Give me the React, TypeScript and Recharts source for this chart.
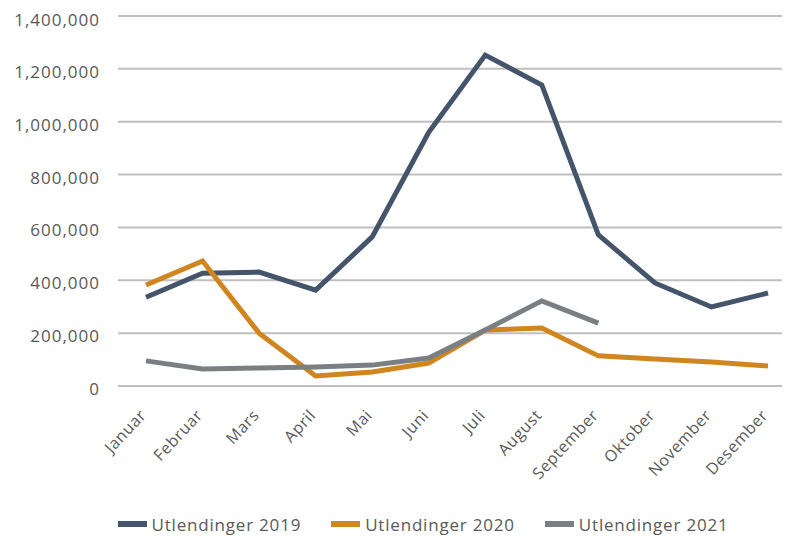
import { CartesianGrid, Legend, Line, LineChart, XAxis, YAxis } from 'recharts';

const months = [
    'Januar',
    'Februar',
    'Mars',
    'April',
    'Mai',
    'Juni',
    'Juli',
    'August',
    'September',
    'Oktober',
    'November',
    'Desember',
];

const utl2019 = [
    336000, 427000, 431000, 363000, 564000, 960000, 1252000, 1139000, 572000,
    390000, 299000, 352000,
];
const utl2020 = [
    382000, 473000, 200000, 38000, 53000, 87000, 212000, 219000, 114000, 102000,
    91000, 76000,
];
const utl2021: (number | null)[] = [
    95000, 64000, 68000, 72000, 79000, 106000, 212000, 322000, 238000, null,
    null, null,
];

const yTicks = [0, 200000, 400000, 600000, 800000, 1000000, 1200000, 1400000];

const seriesInfo = [
    { key: 'u2019', label: 'Utlendinger 2019', color: '#44546A' },
    { key: 'u2020', label: 'Utlendinger 2020', color: '#D0851F' },
    { key: 'u2021', label: 'Utlendinger 2021', color: '#7A7F84' },
];

const data = months.map((m, i) => ({
    month: m,
    u2019: utl2019[i],
    u2020: utl2020[i],
    u2021: utl2021[i],
}));

const FONT = '"Open Sans", sans-serif';
const TEXT = '#595959';

function MonthTick({ x, y, payload }: any) {
    return (
        <g transform={`translate(${x + 1},${y + 22})`}>
            <text
                textAnchor="end"
                transform="rotate(-47)"
                fill={TEXT}
                fontSize={16}
                letterSpacing={0.6}
                fontFamily={FONT}
            >
                {payload.value}
            </text>
        </g>
    );
}

function YTick({ x, y, payload }: any) {
    return (
        <text
            x={x - 3}
            y={y}
            dy={9}
            textAnchor="end"
            fill={TEXT}
            fontSize={17}
            letterSpacing={1}
            fontFamily={FONT}
        >
            {payload.value.toLocaleString('en-US')}
        </text>
    );
}

function LegendBox() {
    return (
        <div
            style={{
                display: 'flex',
                justifyContent: 'center',
                gap: 30,
                height: 26,
                paddingLeft: 42,
                paddingTop: 2,
                fontFamily: FONT,
                fontSize: 17,
                letterSpacing: 0.8,
                color: TEXT,
                alignItems: 'center',
                boxSizing: 'border-box',
            }}
        >
            {seriesInfo.map((s) => (
                <div
                    key={s.key}
                    style={{ display: 'flex', alignItems: 'center', gap: 5 }}
                >
                    <span
                        style={{
                            display: 'inline-block',
                            width: 29,
                            height: 6,
                            background: s.color,
                        }}
                    />
                    <span>{s.label}</span>
                </div>
            ))}
        </div>
    );
}

export default function App() {
    return (
        <div style={{ width: 782, height: 528, overflow: 'hidden' }}>
            <LineChart
                width={800}
                height={528}
                data={data}
                margin={{ top: 8, right: 12, bottom: 0, left: 0 }}
            >
                <CartesianGrid
                    vertical={false}
                    stroke="#BFBFBF"
                    strokeWidth={2}
                />
                <XAxis
                    dataKey="month"
                    axisLine={false}
                    tickLine={false}
                    height={124}
                    interval={0}
                    padding={{ left: 28, right: 28 }}
                    tick={<MonthTick />}
                />
                <YAxis
                    width={110}
                    domain={[0, 1400000]}
                    ticks={yTicks}
                    axisLine={false}
                    tickLine={false}
                    tickSize={0}
                    tickMargin={15}
                    tick={<YTick />}
                />
                <Legend
                    verticalAlign="bottom"
                    content={() => <LegendBox />}
                />
                {seriesInfo.map((s) => (
                    <Line
                        key={s.key}
                        type="linear"
                        dataKey={s.key}
                        stroke={s.color}
                        strokeWidth={5}
                        dot={false}
                        activeDot={false}
                        isAnimationActive={false}
                    />
                ))}
            </LineChart>
        </div>
    );
}
